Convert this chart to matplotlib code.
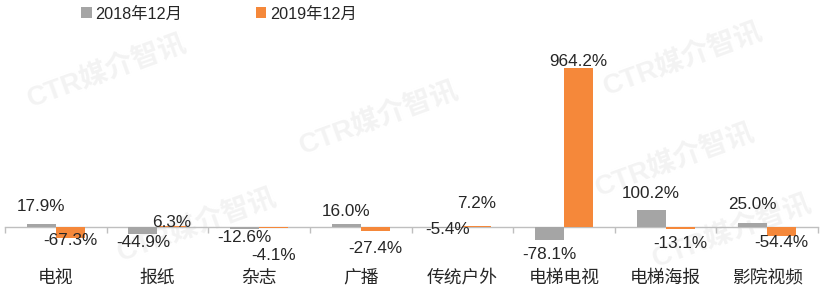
import matplotlib
matplotlib.use("Agg")
import matplotlib.pyplot as plt
import matplotlib.transforms as mtransforms
import numpy as np

plt.rcParams["font.family"] = ["Liberation Sans", "Noto Sans CJK SC", "DejaVu Sans"]

categories = ["电视", "报纸", "杂志", "广播", "传统户外", "电梯电视", "电梯海报", "影院视频"]
series_names = ["2018年12月", "2019年12月"]
values_2018 = [17.9, -44.9, -12.6, 16.0, -5.4, -78.1, 100.2, 25.0]
values_2019 = [-67.3, 6.3, -4.1, -27.4, 7.2, 964.2, -13.1, -54.4]

colors = ("#A5A5A5", "#F5883A")

# label offsets (pixels, positive = up) measured from the bar end, as in the source
label_dy_2018 = [17, -8, -8, 13, -2, -15, 17, 18]
label_dy_2019 = [-2, 3, -28, -17, 22, 6, -14, -7]

fig = plt.figure(figsize=(8.23, 2.96), dpi=100)
ax = fig.add_axes([5 / 823, 0.172, 813 / 823, 0.674])
ax.patch.set_visible(False)

x = np.arange(len(categories))
bar_width = 0.285
bars_a = ax.bar(x - bar_width / 2, values_2018, width=bar_width, color=colors[0], label=series_names[0], zorder=3)
bars_b = ax.bar(x + bar_width / 2, values_2019, width=bar_width, color=colors[1], label=series_names[1], zorder=3)

ax.set_xlim(-0.5, len(categories) - 0.5)
ax.set_ylim(-110, 1100)

for spine in ["left", "right", "top"]:
    ax.spines[spine].set_visible(False)
ax.spines["bottom"].set_position(("data", 0))
ax.spines["bottom"].set_color("#BFBFBF")
ax.spines["bottom"].set_linewidth(1.0)
ax.set_yticks([])
ax.set_xticks(np.arange(len(categories) + 1) - 0.5)
ax.set_xticklabels([])
ax.tick_params(axis="x", direction="out", length=4, color="#BFBFBF", width=1.0)

# category names below the axis
trans = mtransforms.blended_transform_factory(ax.transData, fig.transFigure)
for i, name in enumerate(categories):
    ax.text(i, 1 - 278 / 296, name, transform=trans, ha="center", va="center",
            fontsize=12.8, color="#262626")

# data labels
for vals, dys, offs in [(values_2018, label_dy_2018, -bar_width / 2),
                        (values_2019, label_dy_2019, bar_width / 2)]:
    for i, v in enumerate(vals):
        ax.annotate(f"{v:.1f}%", xy=(i + offs, v), xytext=(0, dys[i] * 0.72),
                    textcoords="offset points", ha="center", va="center",
                    fontsize=12.3, color="#262626", zorder=4)

# watermark, behind everything
marks = [(0.13, 0.76), (0.46, 0.60), (0.83, 0.80), (0.82, 0.46), (0.24, 0.24), (0.89, 0.22)]
for mx, my in marks:
    fig.text(mx, my, "CTR媒介智讯", fontsize=20, fontweight="bold", color="#F3F3F3",
             rotation=20, ha="center", va="center", zorder=-5)

fig.legend(handles=[bars_a, bars_b], loc="center", bbox_to_anchor=(219 / 823, 1 - 14 / 296),
           ncol=2, frameon=False, fontsize=11.7, handlelength=0.65, handleheight=0.65,
           handletextpad=0.25, columnspacing=4.5, labelcolor="#262626")

fig.savefig("out.png", dpi=100)
